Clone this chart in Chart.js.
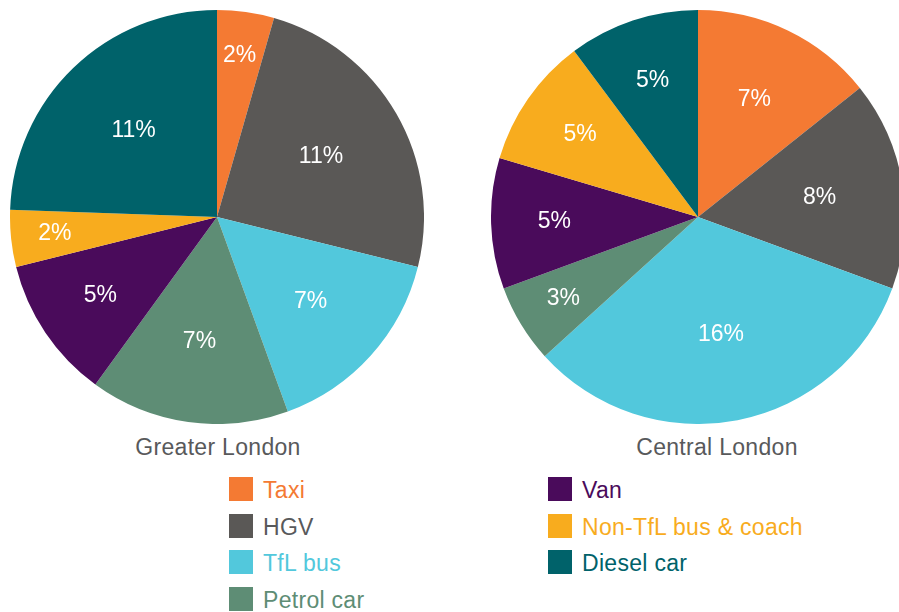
<!DOCTYPE html>
<html>
<head>
<meta charset="utf-8">
<script src="https://cdn.jsdelivr.net/npm/chart.js@4"></script>
<style>
  html, body { margin: 0; padding: 0; width: 899px; height: 612px; overflow: hidden; background: #fff; }
  body { position: relative; font-family: "Liberation Sans", Arial, sans-serif; }
  .pie { position: absolute; top: 10px; width: 414px; height: 414px; }
  .title { position: absolute; top: 434px; font-size: 23px; letter-spacing: 0.3px; color: #58595b; text-align: center; width: 300px; }
  .leg { position: absolute; font-size: 23px; letter-spacing: 0.3px; line-height: 24px; }
  .leg span.box { position: absolute; left: 0; top: 0; width: 24px; height: 24px; }
  .leg span.txt { position: absolute; left: 34px; top: 1px; white-space: nowrap; }
</style>
</head>
<body>
<div class="pie" style="left:10px"><canvas id="chart1" width="414" height="414"></canvas></div>
<div class="pie" style="left:491px"><canvas id="chart2" width="414" height="414"></canvas></div>
<div class="title" style="left:68px">Greater London</div>
<div class="title" style="left:567px">Central London</div>
<div id="legend"></div>
<script>
// Sample data
const labels = ['Taxi', 'HGV', 'TfL bus', 'Petrol car', 'Van', 'Non-TfL bus & coach', 'Diesel car'];
const greater = [2, 11, 7, 7, 5, 2, 11];
const central = [7, 8, 16, 3, 5, 5, 5];
const colours = ['#f47a33', '#5a5856', '#52c8dc', '#5e8d75', '#4a0b5b', '#f8ac1e', '#00626a'];
const textColours = ['#f47a33', '#58595b', '#52c8dc', '#5e8d75', '#4a0b5b', '#f8ac1e', '#00626a'];

// white % labels inside each slice, pushed outwards for thin slices
const sliceLabels = {
    id: 'sliceLabels',
    afterDatasetsDraw(chart) {
        const ctx = chart.ctx;
        const meta = chart.getDatasetMeta(0);
        const values = chart.data.datasets[0].data;
        ctx.save();
        ctx.fillStyle = '#fff';
        ctx.font = '23px "Liberation Sans", Arial, sans-serif';
        ctx.textAlign = 'center';
        ctx.textBaseline = 'middle';
        meta.data.forEach(function(arc, i) {
            const p = arc.getProps(['x', 'y', 'startAngle', 'endAngle', 'outerRadius'], true);
            const mid = (p.startAngle + p.endAngle) / 2;
            const deg = (p.endAngle - p.startAngle) * 180 / Math.PI;
            let frac = 0.86 - 0.0045 * deg;
            frac = Math.max(0.58, Math.min(0.8, frac));
            const r = p.outerRadius * frac;
            ctx.fillText(values[i] + '%', p.x + Math.cos(mid) * r, p.y + Math.sin(mid) * r);
        });
        ctx.restore();
    }
};

function makePie(id, values) {
    const ctx = document.getElementById(id).getContext('2d');
    return new Chart(ctx, {
        type: 'pie',
        data: {
            labels: labels,
            datasets: [{
                data: values,
                backgroundColor: colours,
                borderWidth: 0
            }]
        },
        options: {
            responsive: false,
            animation: false,
            layout: { padding: 0 },
            plugins: {
                legend: { display: false },
                tooltip: { enabled: false }
            }
        },
        plugins: [sliceLabels]
    });
}

const chart1 = makePie('chart1', greater);
const chart2 = makePie('chart2', central);

// legend, two columns
const legend = document.getElementById('legend');
labels.forEach(function(name, i) {
    const col = i < 4 ? 0 : 1;
    const row = i < 4 ? i : i - 4;
    const item = document.createElement('div');
    item.className = 'leg';
    item.style.left = (col ? 548 : 229) + 'px';
    item.style.top = (477 + row * 36.5) + 'px';
    item.innerHTML = '<span class="box" style="background:' + colours[i] + '"></span>' +
        '<span class="txt" style="color:' + textColours[i] + '">' + name + '</span>';
    legend.appendChild(item);
});
</script>
</body>
</html>
